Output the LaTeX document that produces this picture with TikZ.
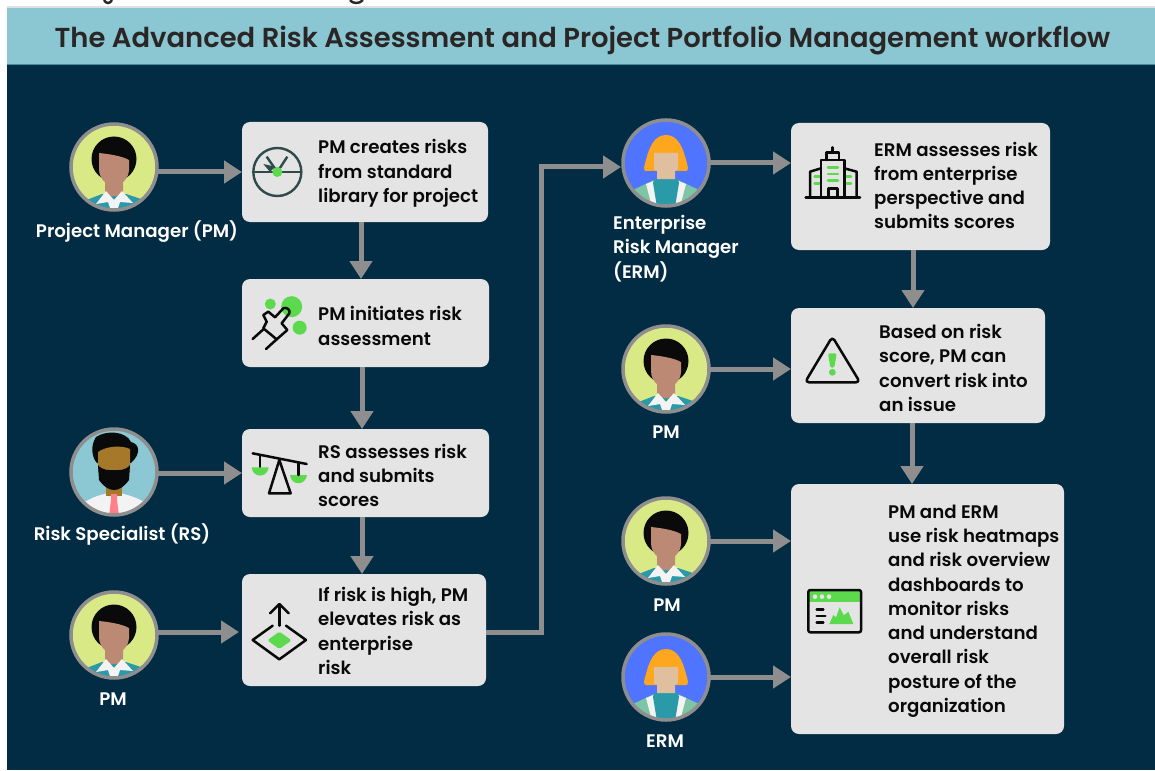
\documentclass[tikz,border=0pt]{standalone}
\usepackage{fontspec}
\setmainfont{Poppins SemiBold}
\newfontfamily\titlefont{Poppins SemiBold}
\usetikzlibrary{arrows.meta}
\definecolor{bgdark}{HTML}{022C43}
\definecolor{band}{HTML}{8BC7D2}
\definecolor{bandline}{HTML}{3E8F98}
\definecolor{boxgray}{HTML}{E4E4E4}
\definecolor{flowgray}{HTML}{8E8E8E}
\definecolor{leaf}{HTML}{5DD94E}
\definecolor{ink}{HTML}{0A0A0A}
\definecolor{dial}{HTML}{2F4A4A}
\definecolor{titleink}{HTML}{2A2626}
\definecolor{pmbg}{HTML}{D9E985}
\definecolor{pmskin}{HTML}{BC8A74}
\definecolor{teal}{HTML}{2A9AA8}
\definecolor{rsbg}{HTML}{8CC8D4}
\definecolor{rsskin}{HTML}{A5782A}
\definecolor{tiepink}{HTML}{FF7F8A}
\definecolor{shirtw}{HTML}{F3F3F3}
\definecolor{ermbg}{HTML}{4F74FF}
\definecolor{ermhair}{HTML}{FFA61F}
\definecolor{ermskin}{HTML}{E0BF9F}
\definecolor{ermjacket}{HTML}{7CC5A5}
\tikzset{
  boxn/.style={draw=none,fill=boxgray,rounded corners=8pt,inner sep=0pt,outer sep=0pt},
  boxtext/.style={anchor=west,align=left,inner sep=0pt,text=ink,font=\fontsize{18.2}{24.25}\selectfont},
  who/.style={align=left,inner sep=0pt,text=white,font=\fontsize{18.2}{24.25}\selectfont},
  face/.style={circle,minimum size=88pt,inner sep=0pt,outer sep=0pt},
  flow/.style={draw=flowgray,line width=5pt,-{Triangle[length=18pt,width=22pt]}},
  iconline/.style={draw=ink,line width=2.5pt,line cap=round,line join=round},
  ring/.style={draw=flowgray,line width=3.5pt},
  pmface/.pic={
    \begin{scope}
      \clip (0,0) circle (43pt);
      \fill[teal] (-30,34) -- (-12,27) -- (12,27) -- (30,33) -- (30,50) -- (-30,50) -- cycle;
      \fill[ink] (0,-8) circle (22.5pt);
      \fill[pmskin] (-15,-14) .. controls (-5,-13) and (8,-11) .. (15,-7) -- (15,3) .. controls (15,10) and (10,14) .. (9,15) -- (9,29) -- (-9,29) -- (-9,15) .. controls (-12,13) and (-15,8) .. (-15,2) -- cycle;
      \fill[shirtw] (-18,37) -- (-8,24) -- (0,33) -- (8,24) -- (19,36) -- (6,35) -- (3,44) -- (-3,44) -- (-6,35) -- cycle;
    \end{scope}
    \draw[ring] (0,0) circle (43pt);
  },
  rsface/.pic={
    \begin{scope}
      \clip (0,0) circle (43pt);
      \fill[shirtw] (-29,43) -- (-29,30) .. controls (-20,24) and (-10,22) .. (-5,21) -- (5,21) .. controls (10,22) and (20,24) .. (30,30) -- (30,43) -- cycle;
      \fill[rsskin] (-8,14) rectangle (8,24);
      \fill[ink] (-18,-35) .. controls (-8,-42) and (12,-41) .. (17,-30) .. controls (26,-28) and (27,-18) .. (17,-9) -- (-17,-9) .. controls (-22,-14) and (-24,-26) .. (-18,-35) -- cycle;
      \fill[rsskin] (-16,-20) .. controls (-8,-26) and (8,-27) .. (16,-23) -- (16,0) -- (0,14) -- (-16,0) -- cycle;
      \fill[ink] (-16,-7) .. controls (-11,-1) and (-5,-2) .. (0,-2) .. controls (5,-2) and (11,-1) .. (16,-7) -- (15,8) .. controls (10,15) and (5,18) .. (0,18) .. controls (-5,18) and (-10,15) .. (-15,8) -- cycle;
      \fill[tiepink] (-3,22) -- (3,22) -- (3,28) -- (5,44) -- (-5,44) -- (-3,28) -- cycle;
    \end{scope}
    \draw[ring] (0,0) circle (43pt);
  },
  ermface/.pic={
    \begin{scope}
      \clip (0,0) circle (43pt);
      \fill[ermjacket] (-33,27) -- (-12,17) -- (12,17) -- (33,27) -- (33,50) -- (-33,50) -- cycle;
      \fill[shirtw] (-20,21) -- (-10,17) -- (-5,44) -- (-14,44) -- cycle;
      \fill[shirtw] (20,21) -- (10,17) -- (5,44) -- (14,44) -- cycle;
      \fill[teal] (-12,16) -- (12,16) -- (13,20) -- (9,44) -- (-9,44) -- (-13,20) -- cycle;
      \fill[ermhair] (-20,8) .. controls (-23,8) and (-22,3) .. (-20,-3) .. controls (-17,-15) and (-12,-28) .. (0,-28) .. controls (12,-28) and (17,-15) .. (20,-3) .. controls (22,3) and (23,8) .. (20,8) -- cycle;
      \fill[ermskin] (-12,-10) -- (12,-10) -- (12,6) -- (9,8) -- (9,16) -- (-9,16) -- (-9,8) -- (-12,6) -- cycle;
    \end{scope}
    \draw[ring] (0,0) circle (43pt);
  }
}
\begin{document}
\begin{tikzpicture}[x=1pt,y=-1pt]
\useasboundingbox (0,0) rectangle (1155,770);
\fill[white] (0,0) rectangle (1155,770);
% clipped fragments of the heading above the frame
\draw[titleink,line width=2.4pt] (104,0) .. controls (106,4) and (110,4) .. (112,0);
\draw[titleink,line width=2.4pt] (350,0) .. controls (352,4) and (360,4) .. (363,0);
\fill[black!12] (7,6) rectangle (1155,8);
\fill[bgdark] (7,65) rectangle (1155,770);
\fill[band] (7,8) rectangle (1155,64);
\fill[bandline] (7,64) rectangle (1155,65.5);
\node[inner sep=0pt,text=titleink,font=\titlefont\fontsize{27.4}{32}\selectfont] (title) at (582.5,41) {The Advanced Risk Assessment and Project Portfolio Management workflow};

% boxes
\node[boxn,minimum width=246pt,minimum height=100pt] (b1) at (365,172) {};
\node[boxn,minimum width=247pt,minimum height=88pt] (b2) at (365.5,323) {};
\node[boxn,minimum width=247pt,minimum height=88pt] (b3) at (365.5,473) {};
\node[boxn,minimum width=244pt,minimum height=112pt] (b4) at (364,630) {};
\node[boxn,minimum width=259pt,minimum height=127pt] (b5) at (920.5,186.5) {};
\node[boxn,minimum width=254pt,minimum height=115pt] (b6) at (918,365.5) {};
\node[boxn,minimum width=273pt,minimum height=250pt] (b7) at (927.5,609) {};

% box texts
\node[boxtext] (t1) at (318,173.5) {PM creates risks\\from standard\\library for project};
\node[boxtext] (t2) at (318,326) {PM initiates risk\\assessment};
\node[boxtext] (t3) at (318,475.5) {RS assesses risk\\and submits\\scores};
\node[boxtext] (t4) at (318,631) {If risk is high, PM\\elevates risk as\\enterprise\\risk};
\node[boxtext] (t5) at (874,185.5) {ERM assesses risk\\from enterprise\\perspective and\\submits scores};
\node[boxtext] (t6) at (879,368) {Based on risk\\score, PM can\\convert risk into\\an issue};
\node[boxtext] (t7) at (888,611) {PM and ERM\\use risk heatmaps\\and risk overview\\dashboards to\\monitor risks\\and understand\\overall risk\\posture of the\\organization};

% avatars
\node[face,fill=pmbg] (pm1) at (114,167) {};
\pic at (pm1) {pmface};
\node[face,fill=rsbg] (rs) at (114,472) {};
\pic at (rs) {rsface};
\node[face,fill=pmbg] (pm2) at (114,635) {};
\pic at (pm2) {pmface};
\node[face,fill=ermbg] (erm1) at (666,163) {};
\pic at (erm1) {ermface};
\node[face,fill=pmbg] (pm3) at (666,369) {};
\pic at (pm3) {pmface};
\node[face,fill=pmbg] (pm4) at (666,541) {};
\pic at (pm4) {pmface};
\node[face,fill=ermbg] (erm2) at (666,677) {};
\pic at (erm2) {ermface};

% avatar labels
\node[who] (l1) at (137,232) {Project Manager (PM)};
\node[who] (l2) at (122,534) {Risk Specialist (RS)};
\node[who] (l3) at (113,699) {PM};
\node[who,anchor=west] (l4) at (613,248.5) {Enterprise\\Risk Manager\\(ERM)};
\node[who] (l5) at (666,432) {PM};
\node[who] (l6) at (667,605) {PM};
\node[who] (l7) at (665,741) {ERM};

% connectors
\coordinate (c12) at (361,0);
\coordinate (c23) at (362,0);
\coordinate (c56) at (913,0);
\coordinate (c67) at (912,0);
\draw[flow] (pm1.east |- b1.west) -- (b1.west);
\draw[flow] (rs.east |- b3.west) -- (b3.west);
\draw[flow,shorten >=3pt] ([yshift=-2pt]pm2.east |- b4.west) -- ([yshift=-2pt]b4.west);
\draw[flow] (erm1.east) -- (erm1.east -| b5.west);
\draw[flow] (pm3.east) -- (pm3.east -| b6.west);
\draw[flow] (pm4.east) -- (pm4.east -| b7.west);
\draw[flow] (erm2.east) -- (erm2.east -| b7.west);
\draw[flow] (b1.south -| c12) -- (b2.north -| c12);
\draw[flow] (b2.south -| c23) -- (b3.north -| c23);
\draw[flow] (b3.south -| c23) -- (b4.north -| c23);
\draw[flow] (b5.south -| c56) -- (b6.north -| c56);
\draw[flow] (b6.south -| c67) -- (b7.north -| c67);
\draw[flow] ([yshift=-2pt]b4.east) -- (541,632) -- (541,167) -- ([yshift=-4pt,xshift=-1pt]erm1.west);

% icon 1: dial
\begin{scope}[shift={(0,0)},x=0.33333pt,y=-0.33333pt]
  \draw[dial,line width=2.4pt] (832,516) circle (24pt);
  \draw[dial,line width=2.4pt] (760,516) -- (905,516);
  \draw[dial,line width=2.4pt] (832,516) -- (800,470);
  \draw[dial,line width=2.4pt] (832,516) -- (862,470);
  \fill[dial] (790,492) -- (825,500) -- (810,516) -- cycle;
  \fill[leaf] (832,516) circle (5pt);
\end{scope}
% icon 2: tapping hand
\begin{scope}[shift={(50,260)},x=0.33333pt,y=-0.33333pt]
  \fill[leaf] (661,132) circle (5.5pt);
  \fill[leaf] (725,140) circle (10.5pt);
  \fill[leaf] (749,203) circle (7pt);
  \draw[iconline] (640,165) -- (655,155) -- (675,172) -- (700,145) .. controls (710,140) and (722,150) .. (718,160) -- (695,190) -- (712,210) -- (680,238) -- (640,205) -- (650,185) -- cycle;
  \draw[iconline] (608,237) -- (640,208);
  \draw[iconline] (648,267) -- (680,238);
\end{scope}
% icon 3: scales
\begin{scope}[shift={(50,260)},x=0.33333pt,y=-0.33333pt]
  \fill[leaf] (605,622) .. controls (608,655) and (652,655) .. (656,622) -- cycle;
  \fill[leaf] (720,645) .. controls (723,678) and (767,678) .. (771,645) -- cycle;
  \draw[iconline] (608,580) -- (770,612);
  \draw[iconline] (688,600) -- (657,700) -- (722,700) -- cycle;
  \draw[iconline] (630,585) -- (630,620);
  \draw[iconline] (745,608) -- (745,645);
\end{scope}
% icon 4: elevate
\begin{scope}[shift={(50,560)},x=0.33333pt,y=-0.33333pt]
  \draw[iconline] (688,197) -- (688,135);
  \draw[iconline] (660,160) -- (688,132) -- (716,160);
  \draw[iconline] (668,197) -- (608,240) -- (688,298) -- (768,240) -- (708,197);
  \fill[leaf,rounded corners=1.5pt] (688,215) -- (725,241) -- (688,267) -- (652,241) -- cycle;
\end{scope}
% icon 5: building
\begin{scope}[shift={(600,110)},x=0.33333pt,y=-0.33333pt]
  \foreach \yy in {172,192,212} \draw[leaf,line width=2.6pt,line cap=round] (684,\yy) -- (714,\yy);
  \foreach \yy in {200,220} {
    \draw[leaf,line width=2.6pt,line cap=round] (644,\yy) -- (660,\yy);
    \draw[leaf,line width=2.6pt,line cap=round] (737,\yy) -- (753,\yy);
  }
  \draw[iconline] (617,263) -- (780,263);
  \draw[iconline] (663,263) -- (663,150) -- (733,150) -- (733,263);
  \draw[iconline] (680,150) -- (680,128) -- (717,128) -- (717,150);
  \draw[iconline] (698,112) -- (698,128);
  \draw[iconline] (630,263) -- (630,185) -- (663,175);
  \draw[iconline] (770,263) -- (770,185) -- (733,175);
  \draw[iconline] (685,263) -- (685,235) -- (712,235) -- (712,263);
\end{scope}
% icon 6: warning
\begin{scope}[shift={(780,300)},x=0.33333pt,y=-0.33333pt]
  \draw[iconline,rounded corners=4pt] (157,110) -- (75,247) -- (240,247) -- cycle;
  \fill[leaf,rounded corners=1.5pt] (144,160) -- (170,160) -- (163,203) -- (151,203) -- cycle;
  \fill[leaf] (157,217) circle (3.4pt);
\end{scope}
% icon 7: dashboard
\begin{scope}[shift={(600,560)},x=0.33333pt,y=-0.33333pt]
  \fill[leaf] (625,90) rectangle (783,126);
  \draw[iconline,rounded corners=2pt] (625,90) rectangle (783,217);
  \foreach \xx in {645,666,687} \fill[boxgray] (\xx,110) circle (2.3pt);
  \draw[iconline] (650,148) -- (670,148);
  \draw[iconline] (650,168) -- (676,168);
  \draw[iconline] (650,188) -- (670,188);
  \fill[leaf] (688,192) -- (700,165) -- (708,172) -- (719,142) -- (731,166) -- (745,155) -- (760,192) -- cycle;
\end{scope}
\end{tikzpicture}
\end{document}
